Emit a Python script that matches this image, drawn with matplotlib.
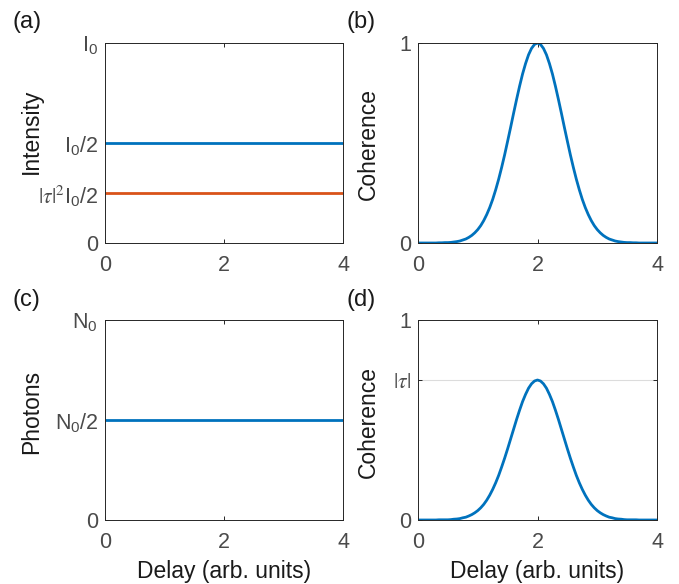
import matplotlib.pyplot as plt

plt.rcParams['font.family'] = ['Liberation Sans', 'DejaVu Sans']
plt.rcParams['mathtext.fontset'] = 'stix'

# delay axis samples, 0 to 4 in steps of 0.05
delay = [round(0.05 * i, 2) for i in range(81)]

# panel (a): intensities (fraction of I0)
intensity_1 = [0.5] * 81
intensity_2 = [0.25] * 81

# panel (b): coherence
coh_b = [0, 0, 0, 0, 0, 0, 0, 0.001, 0.001, 0.002, 0.002, 0.003, 0.005, 0.007,
         0.010, 0.015, 0.020, 0.028, 0.038, 0.051, 0.067, 0.087, 0.112, 0.142,
         0.177, 0.218, 0.266, 0.319, 0.378, 0.441, 0.509, 0.578, 0.649, 0.718,
         0.784, 0.845, 0.897, 0.941, 0.973, 0.993, 1.00,
         0.993, 0.973, 0.941, 0.897, 0.845, 0.784, 0.718, 0.649, 0.578, 0.509,
         0.441, 0.378, 0.319, 0.266, 0.218, 0.177, 0.142, 0.112, 0.087, 0.067,
         0.051, 0.038, 0.028, 0.020, 0.015, 0.010, 0.007, 0.005, 0.003, 0.002,
         0.002, 0.001, 0.001, 0, 0, 0, 0, 0, 0, 0]

# panel (c): photons (fraction of N0)
photons = [0.5] * 81

# panel (d): coherence, peak at |tau|
tau_abs = 0.7
coh_d = [0, 0, 0, 0, 0, 0, 0, 0.001, 0.001, 0.001, 0.001, 0.002, 0.004, 0.005,
         0.007, 0.011, 0.014, 0.020, 0.027, 0.036, 0.047, 0.061, 0.078, 0.099,
         0.124, 0.153, 0.186, 0.223, 0.265, 0.309, 0.356, 0.405, 0.454, 0.503,
         0.549, 0.592, 0.628, 0.659, 0.681, 0.695, 0.70,
         0.695, 0.681, 0.659, 0.628, 0.592, 0.549, 0.503, 0.454, 0.405, 0.356,
         0.309, 0.265, 0.223, 0.186, 0.153, 0.124, 0.099, 0.078, 0.061, 0.047,
         0.036, 0.027, 0.020, 0.014, 0.011, 0.007, 0.005, 0.004, 0.002, 0.001,
         0.001, 0.001, 0.001, 0, 0, 0, 0, 0, 0, 0]

blue = '#0072BD'
orange = '#D95319'
W, H = 679, 584

fig = plt.figure(figsize=(W / 100, H / 100), dpi=100)

def make_ax(x0, y0, x1, y1):
    ax = fig.add_axes([x0 / W, 1 - y1 / H, (x1 - x0) / W, (y1 - y0) / H])
    ax.set_xlim(0, 4)
    ax.set_xticks([0, 2, 4])
    ax.tick_params(direction='in', length=3, width=0.7, top=True, right=True,
                   labelsize=15.5, colors='#262626', labelcolor='#4a4a4a')
    ax.tick_params(axis='x', pad=9)
    ax.tick_params(axis='y', pad=5)
    for s in ax.spines.values():
        s.set_color('#262626')
        s.set_linewidth(0.7)
    return ax

ax_a = make_ax(105, 43, 343, 243)
ax_b = make_ax(418, 43, 657, 243)
ax_c = make_ax(105, 320, 343, 520)
ax_d = make_ax(418, 320, 657, 520)

ax_a.plot(delay, intensity_1, color=blue, lw=2)
ax_a.plot(delay, intensity_2, color=orange, lw=2)
ax_a.set_ylim(0, 1)
ax_a.set_yticks([0, 0.25, 0.5, 1])
ax_a.set_yticklabels(['0', r'$|\tau|^2\mathregular{I_0/2}$', r'$\mathregular{I_0/2}$',
                      r'$\mathregular{I_0}$'])
ax_a.set_ylabel('Intensity', fontsize=16.5, color='#1a1a1a')
ax_a.yaxis.set_label_coords(-0.26, 0.56)

ax_b.plot(delay, coh_b, color=blue, lw=2)
ax_b.set_ylim(0, 1)
ax_b.set_yticks([0, 1])
ax_b.set_ylabel('Coherence', fontsize=16.5, color='#1a1a1a')
ax_b.yaxis.set_label_coords(-0.159, 0.495)

ax_c.plot(delay, photons, color=blue, lw=2)
ax_c.set_ylim(0, 1)
ax_c.set_yticks([0, 0.5, 1])
ax_c.set_yticklabels(['0', r'$\mathregular{N_0/2}$', r'$\mathregular{N_0}$'])
ax_c.set_ylabel('Photons', fontsize=16.5, color='#1a1a1a')
ax_c.yaxis.set_label_coords(-0.26, 0.54)

ax_d.axhline(tau_abs, color='#dcdcdc', lw=0.8, zorder=0)
ax_d.plot(delay, coh_d, color=blue, lw=2)
ax_d.set_ylim(0, 1)
ax_d.set_yticks([0, tau_abs, 1])
ax_d.set_yticklabels(['0', r'$|\tau|$', '1'])
ax_d.set_ylabel('Coherence', fontsize=16.5, color='#1a1a1a')
ax_d.yaxis.set_label_coords(-0.159, 0.49)

for ax in (ax_c, ax_d):
    ax.set_xlabel('Delay (arb. units)', fontsize=16.5, color='#1a1a1a')
    ax.xaxis.set_label_coords(0.5, -0.2)
    ax.xaxis.label.set_va('top')

for lab, x, y in [('(a)', 12, 22), ('(b)', 347, 22), ('(c)', 12, 300), ('(d)', 347, 300)]:
    fig.text(x / W, 1 - y / H, lab, fontsize=17, color='#1a1a1a', va='center', ha='left')

fig.savefig('out.png', dpi=100)
